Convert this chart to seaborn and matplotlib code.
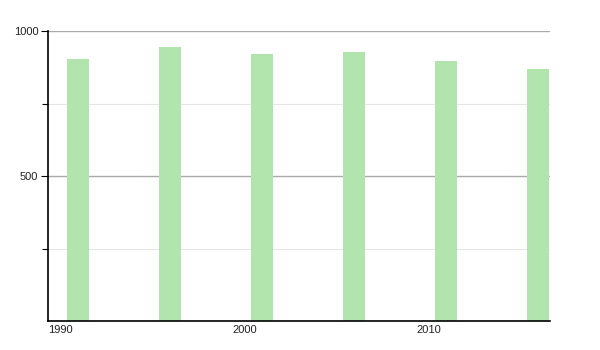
import matplotlib
matplotlib.use("Agg")
import matplotlib.pyplot as plt
import seaborn as sns
import pandas as pd

years = [1991, 1996, 2001, 2006, 2011, 2016]
values = [903, 947, 921, 928, 897, 868]
x_ticks = [1990, 2000, 2010]
y_major = [500, 1000]
y_minor = [250, 750]

sns.set_style("white")
plt.rcParams['font.family'] = ['Liberation Sans', 'DejaVu Sans']

df = pd.DataFrame({"year": years, "value": values})

fig = plt.figure(figsize=(6, 3.5), dpi=100)
ax = fig.add_axes([0.08, 0.083, 0.837, 0.828])

for v in y_minor:
    ax.axhline(v, color="#e6e6e6", lw=0.8, zorder=0)
for v in y_major:
    ax.axhline(v, color="#aaaaaa", lw=1.0, zorder=0)

sns.barplot(data=df, x="year", y="value", native_scale=True, width=0.235,
            color="#b2e4ae", saturation=1, linewidth=0, ax=ax, zorder=2)
# align bars to their left edge at the year
for p in ax.patches:
    p.set_x(p.get_x() + p.get_width() / 2)

ax.set_xlim(1989.97, 2017.25)
ax.set_ylim(0, 1000)
ax.set_xlabel("")
ax.set_ylabel("")

ax.set_yticks(y_major)
ax.set_yticks(y_minor, minor=True)
ax.set_yticklabels([str(v) for v in y_major], fontsize=8, color="#222222")
ax.tick_params(axis="y", which="both", direction="out", length=5, width=0.8,
               color="black", left=True, pad=2)
ax.tick_params(axis="y", which="minor", length=4)

ax.set_xticks(x_ticks)
ax.set_xticklabels([str(v) for v in x_ticks], fontsize=8, color="#222222", ha="left")
ax.tick_params(axis="x", length=0, pad=3)

for s in ["top", "right"]:
    ax.spines[s].set_visible(False)
ax.spines["left"].set_color("black")
ax.spines["bottom"].set_color("black")
ax.spines["left"].set_linewidth(1.2)
ax.spines["bottom"].set_linewidth(1.2)

fig.savefig("out.png", dpi=100)
